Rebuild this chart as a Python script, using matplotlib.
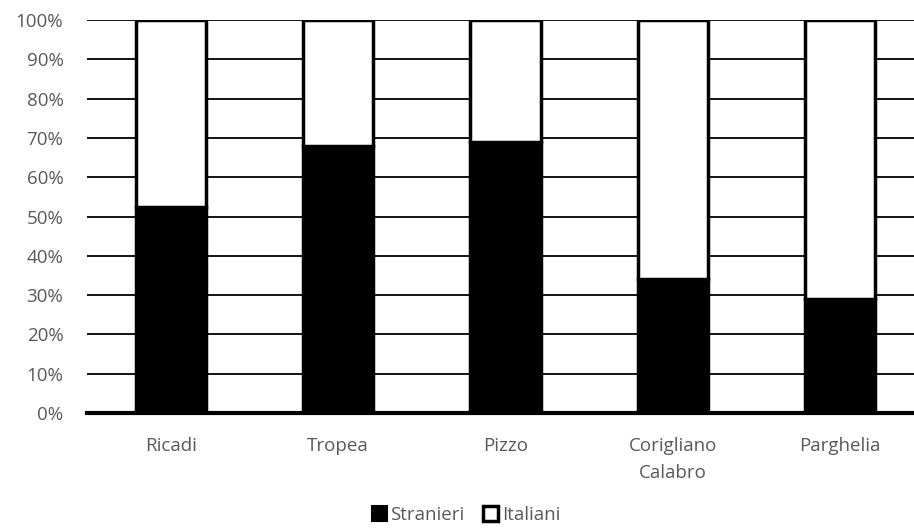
import numpy as np
import matplotlib.pyplot as plt
from matplotlib.patches import Patch

comuni = ["Ricadi", "Tropea", "Pizzo", "Corigliano\nCalabro", "Parghelia"]
stranieri = [52.5, 68.0, 69.0, 34.0, 29.0]
italiani = [100 - s for s in stranieri]
yticks = np.arange(0, 101, 10)

plt.rcParams.update({"font.family": ["Open Sans", "DejaVu Sans"], "font.size": 13.5})
txt = "#595959"

fig = plt.figure(figsize=(9.14, 5.30), dpi=100)
ax = fig.add_axes([87 / 914, 1 - 413 / 530, (924 - 87) / 914, (413 - 20) / 530])

x = np.arange(len(comuni))
w = 0.42
ax.bar(x, stranieri, w, color="black", edgecolor="black", linewidth=2.5,
       label="Stranieri", zorder=3)
ax.bar(x, italiani, w, bottom=stranieri, color="white", edgecolor="black",
       linewidth=2.5, label="Italiani", zorder=3)

ax.set_xlim(-0.5, len(comuni) - 0.5)
ax.set_ylim(0, 100)
ax.set_yticks(yticks)
ax.set_yticklabels([f"{v}%" for v in yticks])
ax.set_xticks(x)
ax.set_xticklabels(comuni, linespacing=1.7)
ax.tick_params(colors=txt, length=0, labelsize=13.5)
ax.tick_params(axis="y", pad=17)
ax.tick_params(axis="x", pad=17)
ax.grid(axis="y", color="black", linewidth=1.3, zorder=0)
for s in ["top", "right", "left"]:
    ax.spines[s].set_visible(False)
ax.spines["bottom"].set_linewidth(3)
ax.spines["bottom"].set_zorder(4)

handles = [Patch(facecolor="black", edgecolor="black", linewidth=1.5),
           Patch(facecolor="white", edgecolor="black", linewidth=2.5)]
fig.legend(handles, ["Stranieri", "Italiani"], loc="center",
           bbox_to_anchor=(466 / 914, 1 - 515 / 530), ncol=2, frameon=False,
           handlelength=0.8, handleheight=0.8, handletextpad=0.2,
           columnspacing=1.0, labelcolor=txt, fontsize=13.5)

fig.savefig("out.png", dpi=100, facecolor="white")
